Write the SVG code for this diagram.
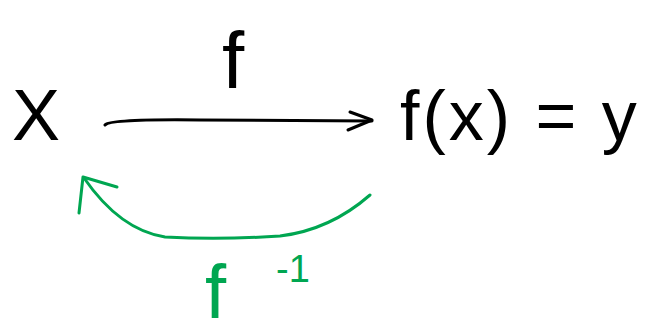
<svg xmlns="http://www.w3.org/2000/svg" width="666" height="336" viewBox="0 0 666 336">
<style>
.t{font-family:"Liberation Sans","DejaVu Sans",sans-serif;fill:#000}
.g{fill:#00a651}
.k{fill:none;stroke:#000;stroke-width:3;stroke-linecap:round;stroke-linejoin:round}
.gr{fill:none;stroke:#00a651;stroke-width:3;stroke-linecap:round;stroke-linejoin:round}
</style>
<rect width="666" height="336" fill="#fff"/>
<g id="node-x"><text class="t" x="12" y="140" font-size="72">X</text></g>
<g id="node-fx"><text class="t" x="400" y="140" font-size="70" letter-spacing="3">f(x) = y</text></g>
<g id="connectors">
<g id="edge-f">
<path class="k" d="M105 125 Q110 119 200 120 L372 121"/>
<path class="k" d="M350 112 L372 120 L348 130"/>
<text class="t" x="222" y="88" font-size="80">f</text>
</g>
<g id="edge-finv">
<path class="gr" d="M370 195 Q330 230 280 236 Q220 240 165 237 Q120 230 84 178"/>
<path class="gr" d="M79 213 L83 177 L117 187"/>
<text class="t g" x="205" y="318" font-size="76">f</text>
<text class="t g" x="276" y="282" font-size="38">-1</text>
</g>
</g>
</svg>
